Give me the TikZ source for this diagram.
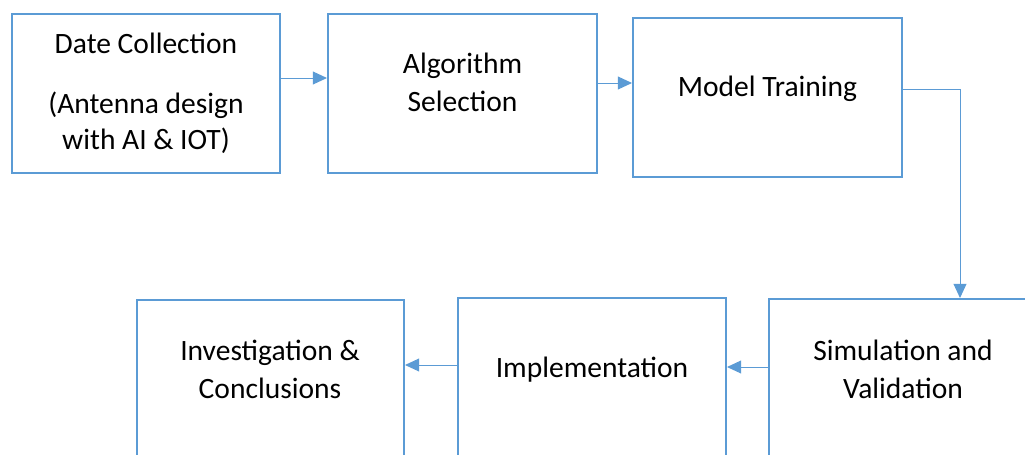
\documentclass[tikz,border=0pt]{standalone}
\usepackage{fontspec}
\setmainfont{Carlito}
\usepackage{xcolor}
\usepackage{tikz}
\usetikzlibrary{arrows.meta}
\definecolor{boxblue}{HTML}{5B9BD5}
\tikzset{
	stage/.style={draw=boxblue, line width=1.4pt, rectangle, inner sep=0pt},
	stagetext/.style={font=\fontsize{21}{27}\selectfont, align=center, inner sep=0pt},
	flow/.style={draw=boxblue, line width=0.7pt, -{Triangle[length=0.35cm, width=0.32cm]}}
}

\begin{document}
\begin{tikzpicture}[x=0.025cm, y=-0.025cm]
	\clip (0,0) rectangle (1025,454);
		\node [stage, minimum width=6.7cm, minimum height=3.975cm] (b1) at (146,93.5) {};
		\node [stage, minimum width=6.725cm, minimum height=3.975cm] (b2) at (462.5,93.5) {};
		\node [stage, minimum width=6.725cm, minimum height=3.975cm] (b3) at (767.5,97.5) {};
		\node [stage, minimum width=6.675cm, minimum height=4.5cm] (b4) at (270.5,390) {};
		\node [stage, minimum width=6.7cm, minimum height=4.55cm] (b5) at (592,389) {};
		\node [stage, minimum width=6.775cm, minimum height=4.525cm] (b6) at (904.5,389.5) {};
		\node [stagetext, font=\fontsize{21}{25.6}\selectfont] (t1) at (146,93) {Date Collection\\[0.6cm](Antenna design\\with AI \& IOT)};
		\node [stagetext] (t2) at (462.5,82.5) {Algorithm\\Selection};
		\node [stagetext] (t3) at (767.5,89) {Model Training};
		\node [stagetext] (t4) at (270,369) {Investigation \&\\Conclusions};
		\node [stagetext] (t5) at (592,370) {Implementation};
		\node [stagetext] (t6) at (903,369) {Simulation and\\Validation};
		\draw [flow] (b1.east |- 0,78) -- (b2.west |- 0,78);
		\draw [flow] (b2.east |- 0,83) -- (b3.west |- 0,83);
		\draw [flow] (b3.east |- 0,89) -| (960,0 |- b6.north);
		\draw [flow] (b6.west |- 0,367) -- (b5.east |- 0,367);
		\draw [flow] (b5.west |- 0,365) -- (b4.east |- 0,365);
	\end{tikzpicture}
\end{document}
